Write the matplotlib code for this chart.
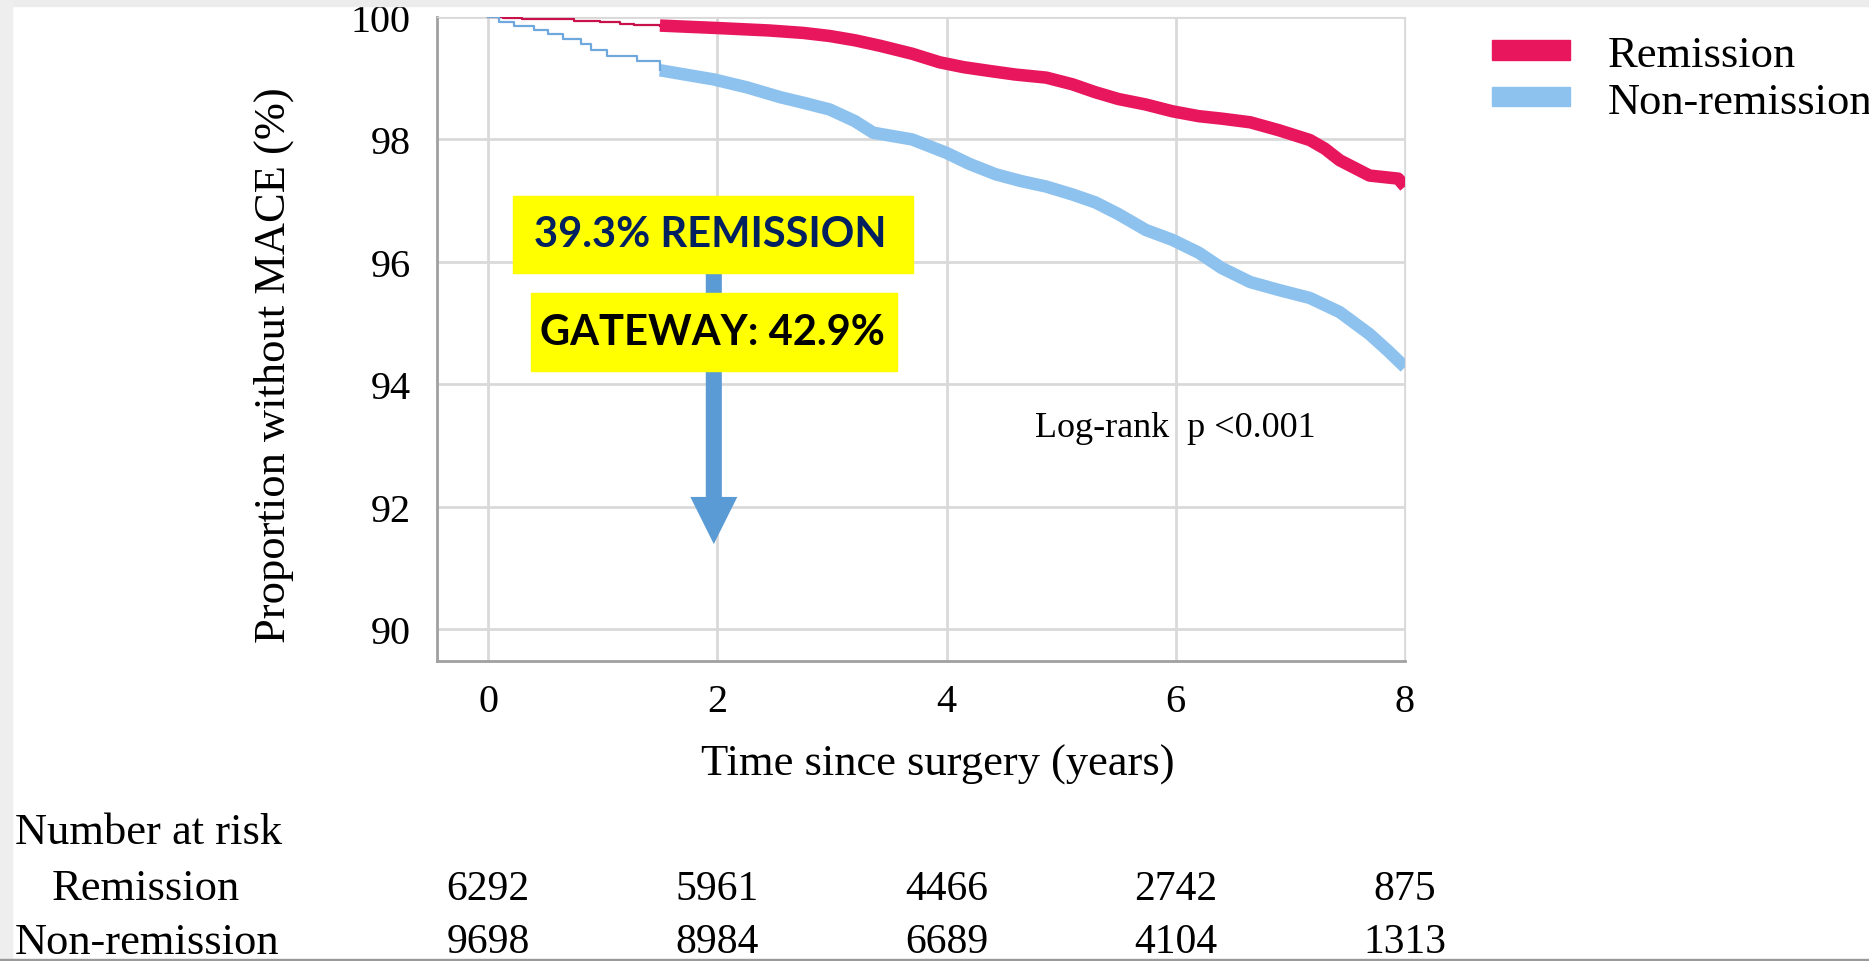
import matplotlib.pyplot as plt
from matplotlib.patches import Rectangle, Patch, FancyArrow
from matplotlib import transforms

# Kaplan-Meier curves (years, % without MACE)
rem_t = [0, 0.13, 0.3, 0.52, 0.75, 0.98, 1.15, 1.27, 1.5, 2.0, 2.45, 2.75, 2.98, 3.2, 3.42, 3.7,
         3.94, 4.15, 4.37, 4.6, 4.87, 5.1, 5.3, 5.5, 5.74, 5.97, 6.2, 6.4, 6.65, 6.9, 7.17, 7.3,
         7.43, 7.69, 7.94, 8.0]
rem_s = [100, 99.98, 99.97, 99.96, 99.94, 99.92, 99.89, 99.87, 99.86, 99.82, 99.78, 99.74, 99.69,
         99.62, 99.53, 99.40, 99.26, 99.18, 99.12, 99.06, 99.01, 98.90, 98.77, 98.66, 98.57, 98.46,
         98.38, 98.34, 98.28, 98.15, 97.99, 97.85, 97.66, 97.41, 97.36, 97.23]

non_t = [0, 0.1, 0.23, 0.4, 0.52, 0.65, 0.81, 0.9, 1.04, 1.3, 1.5, 1.75, 1.97, 2.26, 2.55, 2.75,
         2.98, 3.2, 3.36, 3.7, 4.0, 4.2, 4.43, 4.65, 4.87, 5.1, 5.3, 5.5, 5.74, 5.97, 6.2, 6.4,
         6.65, 6.9, 7.17, 7.43, 7.69, 7.85, 8.0]
non_s = [100, 99.92, 99.86, 99.78, 99.72, 99.64, 99.56, 99.46, 99.36, 99.28, 99.13, 99.05, 98.98,
         98.85, 98.69, 98.60, 98.49, 98.30, 98.11, 98.00, 97.78, 97.60, 97.43, 97.32, 97.23, 97.10,
         96.97, 96.78, 96.52, 96.36, 96.15, 95.90, 95.67, 95.54, 95.41, 95.18, 94.82, 94.55, 94.28]

risk_times = [0, 2, 4, 6, 8]
risk_rem = [6292, 5961, 4466, 2742, 875]
risk_non = [9698, 8984, 6689, 4104, 1313]

groups = ['Remission', 'Non-remission']
red = '#E8175D'
blue = '#8EC2EE'
serif = 'Liberation Serif'

fig = plt.figure(figsize=(18.69, 9.62), dpi=100)
W, H = 1869.0, 962.0
ax = fig.add_axes([437 / W, 1 - 662 / H, (1405 - 437) / W, (662 - 18) / H])

# thin start, thick (censor-marked) band from 1.5 years on
cut = 1.5
i = rem_t.index(cut)
ax.step(rem_t[:i + 1], rem_s[:i + 1], where='post', color='#C8104A', lw=1.6, zorder=3)
ax.plot(rem_t[i:], rem_s[i:], color=red, lw=9, solid_capstyle='butt', zorder=3)
j = non_t.index(cut)
ax.step(non_t[:j + 1], non_s[:j + 1], where='post', color='#6FA8DC', lw=1.6, zorder=3)
ax.plot(non_t[j:], non_s[j:], color=blue, lw=9, solid_capstyle='butt', zorder=2)

ax.set_xlim(-0.445, 8)
ax.set_ylim(89.48, 100)
ax.set_xticks([0, 2, 4, 6, 8])
ax.set_yticks([90, 92, 94, 96, 98, 100])
ax.grid(True, color='#D9D9D9', lw=2)
ax.set_axisbelow(True)
ax.tick_params(length=0, labelsize=29)
ax.tick_params(axis='y', pad=19)
ax.tick_params(axis='x', pad=16)
for lab in ax.get_xticklabels() + ax.get_yticklabels():
    lab.set_fontfamily(serif)
ax.spines['left'].set_color('#A0A0A0')
ax.spines['bottom'].set_color('#A0A0A0')
ax.spines['left'].set_linewidth(2)
ax.spines['bottom'].set_linewidth(2)
ax.spines['top'].set_color('#D9D9D9')
ax.spines['right'].set_color('#D9D9D9')

fig.text(274 / W, 1 - 365 / H, 'Proportion without MACE (%)', rotation=90, ha='center',
         va='center', fontsize=32, family=serif)
fig.text(938 / W, 1 - 765 / H, 'Time since surgery (years)', ha='center', va='center',
         fontsize=32, family=serif)

ax.text((1035 - 488) / 114.6, 100 - (427 - 18) / 61.0, 'Log-rank  p <0.001',
        ha='left', va='center', fontsize=26, family=serif)

# annotation boxes and arrow
ax.add_patch(FancyArrow(1.97, 95.85, 0, -(95.85 - 91.39), width=0.14, head_width=0.41,
                        head_length=0.77, length_includes_head=True, color='#5B9BD5',
                        lw=0, zorder=4))
ax.add_patch(Rectangle((0.218, 95.82), 3.709 - 0.218, 97.082 - 95.82, color='#FFFF00', zorder=5))
ax.add_patch(Rectangle((0.375, 94.213), 3.569 - 0.375, 95.492 - 94.213, color='#FFFF00', zorder=5))
ax.text(1.94, 96.45, '39.3% REMISSION', ha='center', va='center', fontsize=30,
        fontweight='bold', family='Lato', color='#002060', zorder=6)
ax.text(1.955, 94.85, 'GATEWAY: 42.9%', ha='center', va='center', fontsize=30,
        fontweight='bold', family='Lato', color='black', zorder=6)

# legend
handles = [Patch(color=red), Patch(color=blue)]
fig.legend(handles, groups, loc='upper left', bbox_to_anchor=(1492 / W, 1 - 36 / H),
           frameon=False, prop={'family': serif, 'size': 32}, handlelength=1.75,
           handleheight=0.3, handletextpad=0.85, labelspacing=0.15, borderpad=0,
           borderaxespad=0)

# number at risk table
tr = transforms.blended_transform_factory(ax.transData, fig.transFigure)
fig.text(15 / W, 1 - 833 / H, 'Number at risk', ha='left', va='center', fontsize=32, family=serif)
fig.text(146 / W, 1 - 889 / H, groups[0], ha='center', va='center', fontsize=32, family=serif)
fig.text(15 / W, 1 - 943 / H, groups[1], ha='left', va='center', fontsize=32, family=serif)
for t, a, b in zip(risk_times, risk_rem, risk_non):
    ax.text(t, 1 - 890 / H, str(a), transform=tr, ha='center', va='center', fontsize=30,
            family=serif)
    ax.text(t, 1 - 943 / H, str(b), transform=tr, ha='center', va='center', fontsize=30,
            family=serif)

# screenshot frame
fig.add_artist(Rectangle((0, 1 - 7 / H), 1, 7 / H, transform=fig.transFigure, color='#ECECEC'))
fig.add_artist(Rectangle((0, 0), 12 / W, 1, transform=fig.transFigure, color='#EEEEEE'))
fig.add_artist(Rectangle((0, 0), 1, 2 / H, transform=fig.transFigure, color='#9A9A9A'))

fig.savefig('out.png', dpi=100)
